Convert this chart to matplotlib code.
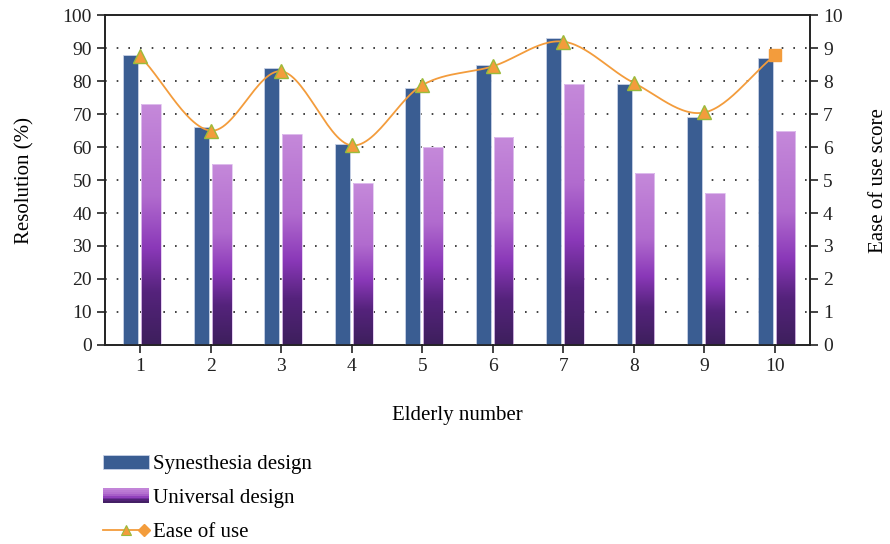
import numpy as np
import matplotlib
matplotlib.use("Agg")
from matplotlib import pyplot as plt
from matplotlib.colors import LinearSegmentedColormap
from matplotlib.patches import Rectangle
from matplotlib.lines import Line2D
from matplotlib.legend_handler import HandlerBase

plt.rcParams['font.family'] = ['Liberation Serif', 'DejaVu Serif']

elderly = [1, 2, 3, 4, 5, 6, 7, 8, 9, 10]
synesthesia = [88, 66, 84, 61, 78, 85, 93, 79, 69, 87]
universal = [73, 55, 64, 49, 60, 63, 79, 52, 46, 65]
ease = [8.75, 6.5, 8.3, 6.05, 7.88, 8.45, 9.2, 7.95, 7.05, 8.78]

blue = '#3a5d92'
orange = '#f39c3c'
green = '#9bbb3b'
purple_cmap = LinearSegmentedColormap.from_list(
    'purp', [(0, '#3d1f5c'), (0.22, '#55237c'), (0.4, '#8a38b8'),
             (0.62, '#b16bce'), (1, '#c589da')])


def catmull_rom(x, y, n=30):
    # smooth curve through the points (like a spreadsheet "smoothed line")
    x = np.asarray(x, float); y = np.asarray(y, float)
    px = np.concatenate([[2*x[0]-x[1]], x, [2*x[-1]-x[-2]]])
    py = np.concatenate([[2*y[0]-y[1]], y, [2*y[-1]-y[-2]]])
    xs, ys = [], []
    t = np.linspace(0, 1, n)
    for i in range(1, len(px)-2):
        for p, out in ((px, xs), (py, ys)):
            p0, p1, p2, p3 = p[i-1], p[i], p[i+1], p[i+2]
            out.append(0.5*((2*p1) + (-p0+p2)*t + (2*p0-5*p1+4*p2-p3)*t**2
                            + (-p0+3*p1-3*p2+p3)*t**3))
    return np.concatenate(xs), np.concatenate(ys)


class GradientHandler(HandlerBase):
    def create_artists(self, legend, orig, xd, yd, w, h, fs, trans):
        arts = []
        n = 8
        for k in range(n):
            c = purple_cmap((k + 0.5)/n)
            arts.append(Rectangle((xd, yd + k*h/n), w, h/n + 0.3,
                                  facecolor=c, edgecolor='none', transform=trans))
        return arts


class EaseHandler(HandlerBase):
    def create_artists(self, legend, orig, xd, yd, w, h, fs, trans):
        ym = yd + h/2
        ln = Line2D([xd, xd+w], [ym, ym], color=orange, lw=1.3, transform=trans)
        tri = Line2D([xd+w*0.5], [ym], marker='^', ms=7, color=orange,
                     mec=green, mew=0.8, transform=trans)
        dia = Line2D([xd+w*0.9], [ym], marker='D', ms=6, color=orange,
                     mec=orange, transform=trans)
        return [ln, tri, dia]


fig = plt.figure(figsize=(8.9, 5.44), dpi=100)
ax = fig.add_axes([0.118, 0.366, 0.792, 0.606])
ax2 = ax.twinx()

x = np.array(elderly)
wb, wu = 0.21, 0.28
bars_b = ax.bar(x - 0.135, synesthesia, width=wb, color=blue,
                edgecolor='#c8d2e6', linewidth=0.6, zorder=3, label='Synesthesia design')
bars_u = ax.bar(x + 0.155, universal, width=wu, color='none',
                edgecolor='#e2c6f0', linewidth=0.6, zorder=4, label='Universal design')
grad = np.linspace(0, 1, 256).reshape(-1, 1)
for b in bars_u:
    bx, by, bw, bh = b.get_x(), b.get_y(), b.get_width(), b.get_height()
    im = ax.imshow(grad, cmap=purple_cmap, origin='lower', aspect='auto',
                   extent=[bx, bx+bw, by, by+bh], zorder=3)
    im.set_clip_path(b)

ax.set_xlim(0.5, 10.5)
ax.set_ylim(0, 100)
ax.set_yticks(range(0, 101, 10))
ax.set_xticks(elderly)
for v in range(10, 100, 10):
    ax.axhline(v, color='#222222', ls=(0, (1, 6)), lw=1.2, zorder=1)

sx, sy = catmull_rom(elderly, ease)
ax2.plot(sx, sy, color=orange, lw=1.3, zorder=5)
ax2.plot(elderly[:-1], ease[:-1], ls='none', marker='^', ms=10, color=orange,
         mec=green, mew=1.0, zorder=6)
ax2.plot(elderly[-1:], ease[-1:], ls='none', marker='s', ms=9, color=orange,
         mec=orange, zorder=6)
ax2.set_ylim(0, 10)
ax2.set_yticks(range(0, 11))

for a in (ax, ax2):
    a.tick_params(labelsize=14, direction='out', length=6, width=1.2, colors='#222222')
    for s in a.spines.values():
        s.set_linewidth(1.2)
        s.set_color('#222222')

ax.set_ylabel('Resolution (%)', fontsize=15, labelpad=20)
ax2.set_ylabel('Ease of use score', fontsize=15, labelpad=19)
ax.set_xlabel('Elderly number', fontsize=15, labelpad=22)

handles = [bars_b, bars_u, Line2D([], [], color=orange)]
labels = ['Synesthesia design', 'Universal design', 'Ease of use']
fig.legend(handles, labels, loc='upper left', bbox_to_anchor=(0.116, 0.164),
           frameon=False, fontsize=15, handlelength=2.2, handletextpad=0.2,
           labelspacing=0.68, borderaxespad=0, borderpad=0,
           handler_map={bars_u: GradientHandler(), handles[2]: EaseHandler()})

fig.savefig('out.png', dpi=100)
